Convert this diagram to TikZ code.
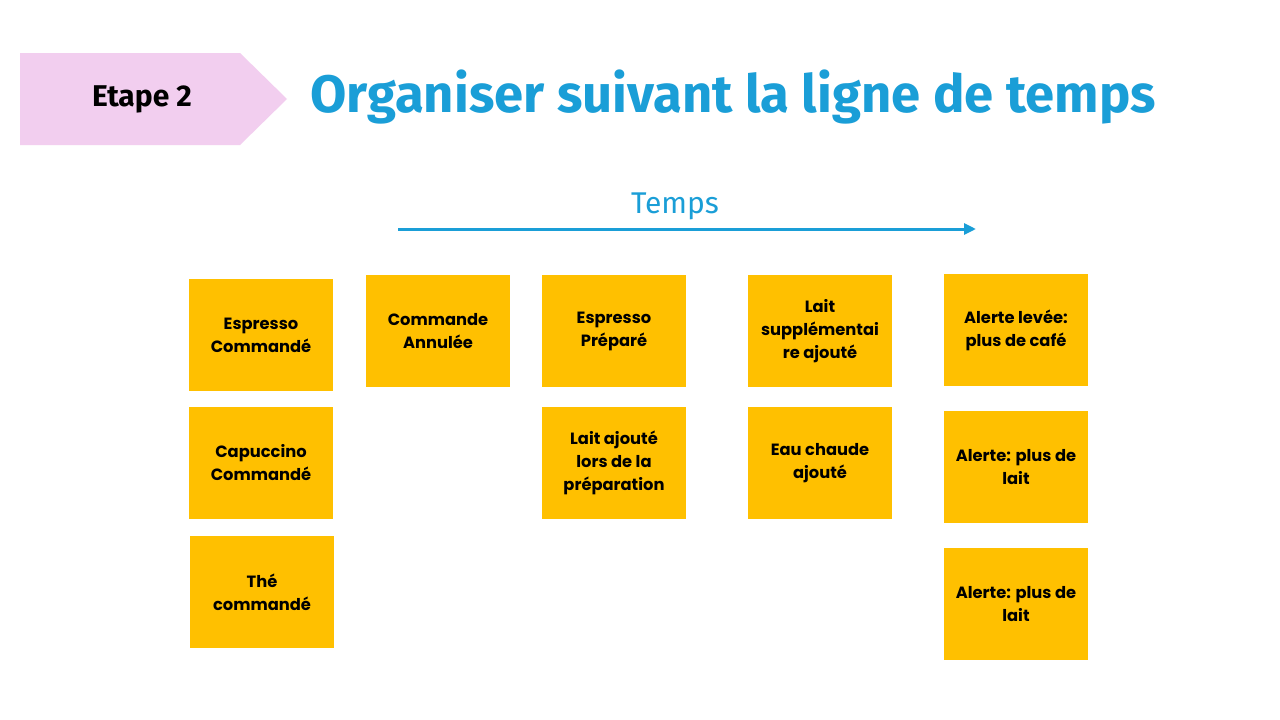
\documentclass[tikz,border=0pt]{standalone}
\usepackage{fontspec}
\setmainfont{Fira Sans}
\newfontfamily\notefont{Poppins}
\usepackage{xcolor}
\usetikzlibrary{arrows.meta}
\definecolor{stepPink}{HTML}{F2CEEF}
\definecolor{titleBlue}{HTML}{1A9ED7}
\definecolor{noteYellow}{HTML}{FFC000}
\tikzset{note/.style={fill=noteYellow,minimum width=144pt,minimum height=112pt,
    align=center,font=\notefont\bfseries\fontsize{16.3}{23}\selectfont,inner sep=4pt},
    timeline/.style={draw=titleBlue,line width=3pt,-{Triangle[length=12pt,width=11pt]}}}

\begin{document}
\begin{tikzpicture}[x=1pt,y=-1pt]
    \useasboundingbox[fill=white] (0,0) rectangle (1280,720);
    % header
    \fill[stepPink] (20,53) -- (240,53) -- (287,99) -- (240,145) -- (20,145) -- cycle;
    \node[font=\bfseries\fontsize{30}{32}\selectfont] (etape) at (142,99) {Etape 2};
    \node[anchor=west,text=titleBlue,font=\bfseries\fontsize{52.6}{56}\selectfont] (titre) at (307,97)
        {Organiser suivant la ligne de temps};
    % time axis
    \node[text=titleBlue,font=\fontsize{30}{32}\selectfont] (temps) at (675,206) {Temps};
    \coordinate (t0) at (398,229);
    \coordinate (t1) at (976,229);
    \draw[timeline] (t0) -- (t1);
    % events
    \node[note] (espresso) at (261,335) {Espresso\\Commandé};
    \node[note] (capuccino) at (261,463) {Capuccino\\Commandé};
    \node[note] (the) at (262,592) {Thé\\commandé};
    \node[note] (annulee) at (438,331) {Commande\\Annulée};
    \node[note] (prepare) at (614,331) {Espresso\\Préparé};
    \node[note] (lait) at (614,463) {Lait ajouté\\lors de la\\préparation};
    \node[note] (supp) at (820,331) {Lait\\supplémentai\\re ajouté};
    \node[note] (eau) at (820,463) {Eau chaude\\ajouté};
    \node[note] (cafe) at (1016,330) {Alerte levée:\\plus de café};
    \node[note] (alerte1) at (1016,467) {Alerte: plus de\\lait};
    \node[note] (alerte2) at (1016,604) {Alerte: plus de\\lait};
\end{tikzpicture}
\end{document}
